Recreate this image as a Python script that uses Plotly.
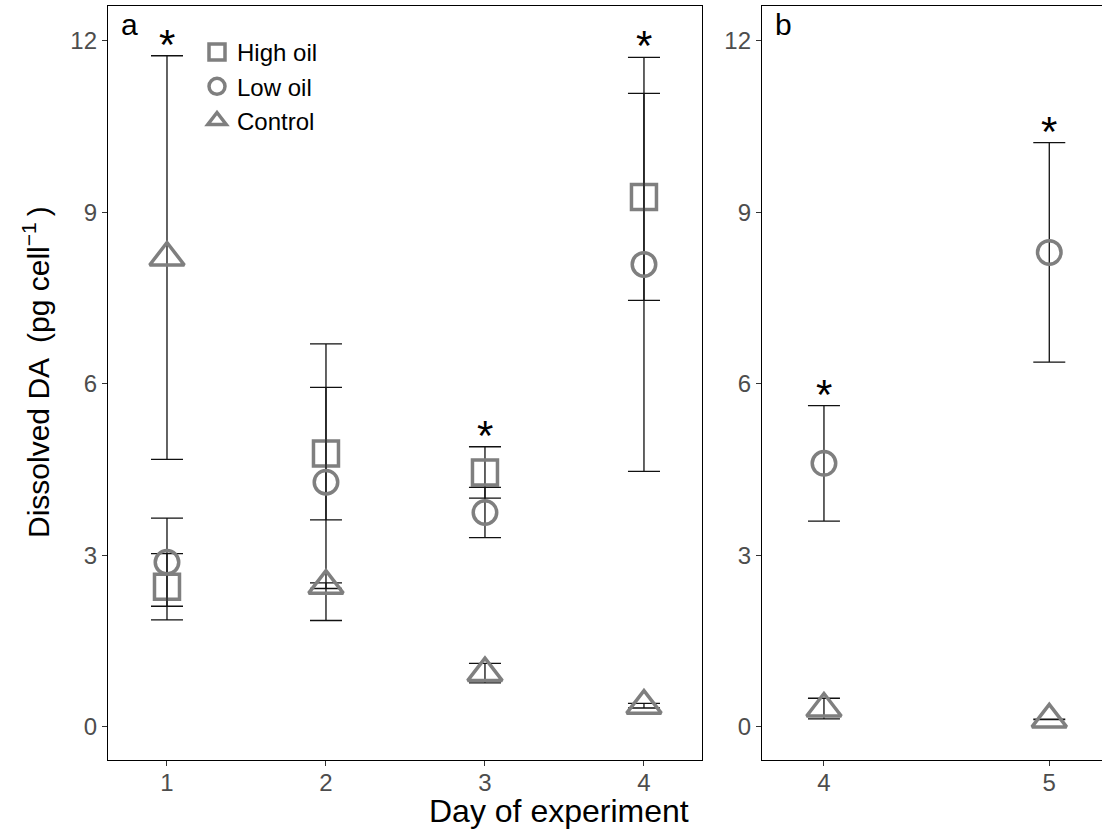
import plotly.graph_objects as go

# ---- data ----
days_a = [1, 2, 3, 4]
high_a = [2.45, 4.78, 4.45, 9.27]
high_err_a = [0.58, 1.16, 0.45, 1.81]
low_a = [2.88, 4.28, 3.75, 8.09]
low_err_a = [0.77, 2.42, 0.44, 3.62]
control_a = [8.21, 2.47, 0.94, 0.37]
control_err_a = [3.53, 0.05, 0.17, 0.04]

days_b = [4, 5]
low_b = [4.61, 8.30]
low_err_b = [1.01, 1.92]
control_b = [0.32, 0.13]
control_err_b = [0.18, 0.005]

sig_days_a = [1, 3, 4]
sig_days_b = [4, 5]

y_ticks = [0, 3, 6, 9, 12]
x_ticks_a = [1, 2, 3, 4]
x_ticks_b = [4, 5]

FONT = "Arial, Liberation Sans, sans-serif"
GREY = "#7f7f7f"
W, H = 1102, 830

fig = go.Figure()


def err(vals):
    return dict(type="data", array=vals, visible=True, color="#111111",
                thickness=1.3, width=16)


def mk(symbol, size):
    return dict(symbol=symbol, size=size, color=GREY, line=dict(width=3.5, color=GREY))


fig.add_trace(go.Scatter(x=days_a, y=high_a, error_y=err(high_err_a), mode="markers",
                         marker=mk("square-open", 25), name="High oil",
                         xaxis="x", yaxis="y"))
fig.add_trace(go.Scatter(x=days_a, y=low_a, error_y=err(low_err_a), mode="markers",
                         marker=mk("circle-open", 23.5), name="Low oil",
                         xaxis="x", yaxis="y"))
fig.add_trace(go.Scatter(x=days_a, y=control_a, error_y=err(control_err_a), mode="markers",
                         marker=mk("triangle-up-open", 30), name="Control",
                         xaxis="x", yaxis="y"))
fig.add_trace(go.Scatter(x=days_b, y=low_b, error_y=err(low_err_b), mode="markers",
                         marker=mk("circle-open", 23.5), name="Low oil", showlegend=False,
                         xaxis="x2", yaxis="y2"))
fig.add_trace(go.Scatter(x=days_b, y=control_b, error_y=err(control_err_b), mode="markers",
                         marker=mk("triangle-up-open", 30), name="Control", showlegend=False,
                         xaxis="x2", yaxis="y2"))


def top_of(day, series):
    tops = []
    for days, vals, errs in series:
        if day in days:
            i = days.index(day)
            tops.append(vals[i] + errs[i])
    return max(tops)


ser_a = [(days_a, high_a, high_err_a), (days_a, low_a, low_err_a), (days_a, control_a, control_err_a)]
ser_b = [(days_b, low_b, low_err_b), (days_b, control_b, control_err_b)]

star_font = dict(family=FONT, size=42, color="black")
annotations = []
for d in sig_days_a:
    annotations.append(dict(x=d, y=top_of(d, ser_a), xref="x", yref="y", text="*",
                            showarrow=False, yanchor="bottom", yshift=-14, font=star_font))
for d in sig_days_b:
    annotations.append(dict(x=d, y=top_of(d, ser_b), xref="x2", yref="y2", text="*",
                            showarrow=False, yanchor="bottom", yshift=-14, font=star_font))

annotations += [
    dict(x=119 / W, y=1 - 6 / H, xref="paper", yref="paper", text="a", showarrow=False,
         xanchor="left", yanchor="top", font=dict(family=FONT, size=30, color="black")),
    dict(x=773 / W, y=1 - 6 / H, xref="paper", yref="paper", text="b", showarrow=False,
         xanchor="left", yanchor="top", font=dict(family=FONT, size=30, color="black")),
    dict(x=559 / W, y=1 - 811 / H, xref="paper", yref="paper", text="Day of experiment",
         showarrow=False, xanchor="center", yanchor="middle",
         font=dict(family=FONT, size=32, color="black")),
    dict(x=36 / W, y=1 - 372 / H, xref="paper", yref="paper",
         text="Dissolved DA\u2002(pg cell<sup>\u22121</sup>\u2009)", textangle=-90,
         showarrow=False, xanchor="center", yanchor="middle",
         font=dict(family=FONT, size=30, color="black")),
]

yd = [1 - 760 / H, 1 - 6 / H]
axis_common = dict(showgrid=False, zeroline=False, showline=True, linecolor="black",
                   linewidth=1.3, ticks="outside", ticklen=5, tickwidth=1.3,
                   tickcolor="#333333",
                   tickfont=dict(family=FONT, size=24, color="#4d4d4d"))

fig.update_layout(
    width=W, height=H,
    margin=dict(l=0, r=0, t=0, b=0, autoexpand=False),
    paper_bgcolor="white", plot_bgcolor="white",
    xaxis=dict(domain=[108 / W, 702 / W], range=[0.629, 4.365], tickvals=x_ticks_a,
               mirror=True, anchor="y", ticklabelstandoff=-4, **axis_common),
    yaxis=dict(domain=yd, range=[-0.58, 12.61], tickvals=y_ticks, mirror=True,
               anchor="x", **axis_common),
    xaxis2=dict(domain=[762 / W, 1.0], range=[3.725, 5.234], tickvals=x_ticks_b,
                mirror=True, anchor="y2", ticklabelstandoff=-4, **axis_common),
    yaxis2=dict(domain=yd, range=[-0.58, 12.61], tickvals=y_ticks, mirror=False,
                anchor="x2", **axis_common),
    showlegend=True,
    legend=dict(x=197 / W, y=1 - 30 / H, xanchor="left", yanchor="top",
                bgcolor="rgba(0,0,0,0)", font=dict(family=FONT, size=24, color="black"),
                tracegroupgap=0, itemsizing="trace"),
    annotations=annotations,
)

fig.write_html("out.html", config={"displayModeBar": False},
               post_script="document.body.style.margin='0';")
